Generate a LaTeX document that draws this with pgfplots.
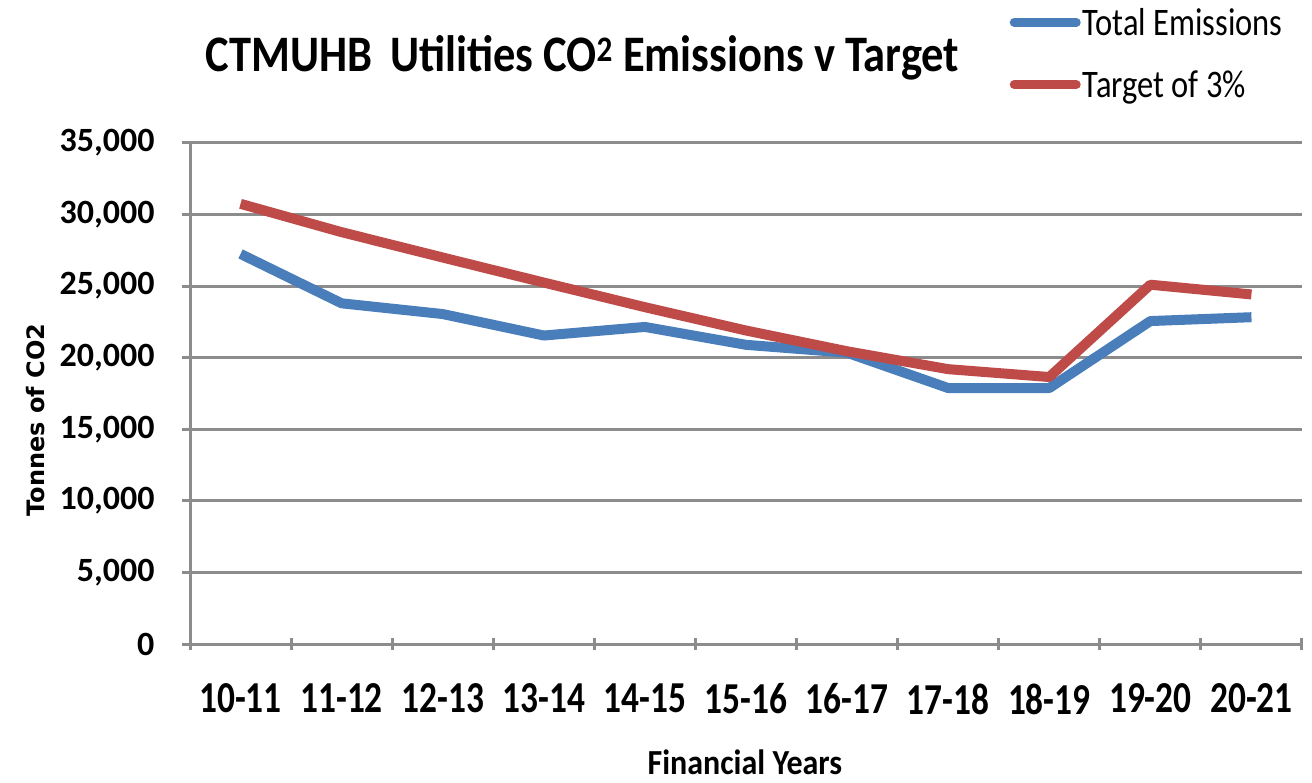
\documentclass[border=0pt]{standalone}
\usepackage{pgfplots}
\pgfplotsset{compat=1.18}
\usepackage{fontspec}
\setmainfont{Carlito}
\newfontfamily\dejavu{DejaVu Sans}
\definecolor{eblue}{HTML}{4A7EBB}
\definecolor{ered}{HTML}{BE4B48}
\definecolor{gridgray}{HTML}{8C8C8C}
\newcommand\xl[1]{\scalebox{1.04}[1.3]{#1}}
\begin{document}
\begin{tikzpicture}[x=1pt,y=1pt]
\path[use as bounding box] (0,0) rectangle (1312,782);
\begin{axis}[
  at={(190pt,138pt)}, anchor=south west,
  scale only axis, width=1112pt, height=501pt,
  xmin=-0.5, xmax=10.5, ymin=0, ymax=35000,
  xtick={0,...,10},
  xticklabels={\xl{10-11},\xl{11-12},\xl{12-13},\xl{13-14},\xl{14-15},\xl{15-16},\xl{16-17},\xl{17-18},\xl{18-19},\xl{19-20},\xl{20-21}},
  minor xtick={-0.5,0.5,...,10.5},
  major x tick style={draw=none},
  minor x tick style={draw=gridgray, line width=3pt},
  minor tick length=12pt,
  xtick pos=bottom, x tick label style={yshift=-28pt},
  ytick={0,5000,...,35000},
  ytick pos=left,
  major y tick style={draw=gridgray, line width=3pt},
  major tick length=16pt,
  tick align=center,
  ymajorgrids, grid style={gridgray, line width=3pt},
  axis x line*=bottom, axis y line*=left,
  axis line style={gridgray, line width=3pt, -},
  tick label style={font=\fontsize{34}{40}\selectfont\bfseries},
  y tick label style={xshift=-24pt},
  /pgf/number format/.cd, 1000 sep={,}, assume math mode=true,
  /pgfplots/.cd,
  scaled y ticks=false,
  title={\scalebox{1}[1.15]{CTMUHB\, Utilities CO\textsuperscript{2} Emissions v Target}},
  title style={font=\fontsize{44.5}{50}\selectfont\bfseries, at={(axis description cs:0.353,1.158)}, anchor=center},
  xlabel={\scalebox{1}[1.1]{Financial Years}},
  xlabel style={font=\fontsize{32}{36}\selectfont\bfseries, at={(axis description cs:0.499,-0.236)}, anchor=center},
  ylabel={Tonnes of CO2},
  ylabel style={font=\fontsize{24}{28}\selectfont\dejavu\bfseries, at={(axis description cs:-0.139,0.447)}, anchor=center, rotate=0},
  legend style={draw=none, fill=none, at={(axis description cs:0.737,1.274)}, anchor=north west,
    font=\fontsize{32.5}{36}\selectfont, row sep=30pt, inner sep=0pt, /tikz/every even column/.append style={column sep=0pt}},
  legend cell align=left,
  legend image code/.code={\draw[#1, line width=9pt, line cap=round] (0pt,0pt) -- (62pt,0pt);},
]
\addplot[eblue, line width=10pt, line join=round] coordinates {
(0,27250) (1,23800) (2,23050) (3,21550) (4,22150) (5,20900) (6,20350) (7,17880) (8,17880) (9,22560) (10,22830)};
\addlegendentry{\scalebox{1}[1.2]{Total Emissions}}
\addplot[ered, line width=10pt, line join=round] coordinates {
(0,30750) (1,28770) (2,27000) (3,25250) (4,23530) (5,21900) (6,20450) (7,19200) (8,18650) (9,25100) (10,24420)};
\addlegendentry{\scalebox{1}[1.2]{Target of 3\%}}
\end{axis}
\end{tikzpicture}
\end{document}
